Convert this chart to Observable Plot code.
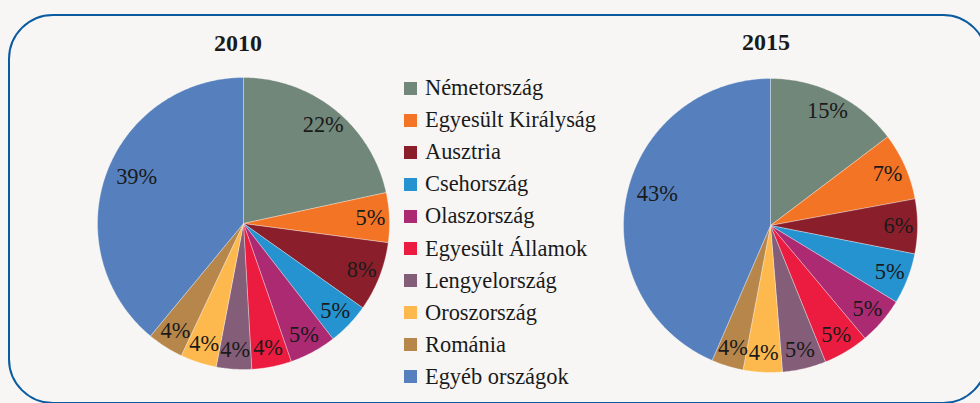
<!DOCTYPE html>
<html>
<head>
<meta charset="utf-8">
<script src="https://cdn.jsdelivr.net/npm/d3@7"></script>
<script src="https://cdn.jsdelivr.net/npm/@observablehq/plot@0.6"></script>
<style>
  html, body { margin: 0; padding: 0; background: #f7f6f4; }
  body { width: 980px; height: 403px; position: relative; overflow: hidden; font-family: "Liberation Serif", "Times New Roman", serif; color: #1a1a1a; }
  .frame { position: absolute; left: 8px; top: 14px; width: 980px; height: 390px; border: 2px solid #0b5ba1; border-radius: 45px; box-sizing: border-box; }
  .title { position: absolute; width: 120px; text-align: center; font-weight: bold; font-size: 24px; line-height: 24px; }
  .pie { position: absolute; }
  .leg { position: absolute; left: 404px; display: flex; align-items: center; height: 22px; font-size: 22.4px; line-height: 22px; white-space: nowrap; }
  .sw { width: 13px; height: 13px; margin-right: 8px; flex: none; }
</style>
</head>
<body>
<div class="frame"></div>
<script>
const countries = ["Németország","Egyesült Királyság","Ausztria","Csehország","Olaszország","Egyesült Államok","Lengyelország","Oroszország","Románia","Egyéb országok"];
const colors = ["#71877a","#f37425","#8a1f2b","#2593cf","#ab2a72","#ec1b40","#845e79","#fdb94e","#b7864a","#5580bd"];
const years = ["2010","2015"];
const values2010 = [21.6,5.5,7.7,4.7,5.2,4.4,3.9,4.0,4.0,39.0];
const values2015 = [14.7,7.4,6.0,5.6,5.2,5.0,4.8,4.3,3.5,43.5];
const labels2010 = ["22%","5%","8%","5%","5%","4%","4%","4%","4%","39%"];
const labels2015 = ["15%","7%","6%","5%","5%","5%","5%","4%","4%","43%"];

const pies = [
  {year: years[0], values: values2010, labels: labels2010, cx: 243, cy: 223, r: 146, titleX: 238, titleTop: 31},
  {year: years[1], values: values2015, labels: labels2015, cx: 770, cy: 224.5, r: 147, titleX: 766, titleTop: 30}
];

function drawPie(p) {
  const rows = countries.map((name, i) => ({name, v: p.values[i], label: p.labels[i]}));
  const arcs = d3.pie().sort(null).value(d => d.v)(rows);
  const pts = [];
  const lbls = [];
  for (const a of arcs) {
    pts.push({name: a.data.name, x: 0, y: 0});
    const n = Math.max(4, Math.ceil((a.endAngle - a.startAngle) / 0.01));
    for (let k = 0; k <= n; k++) {
      const t = a.startAngle + (a.endAngle - a.startAngle) * k / n;
      pts.push({name: a.data.name, x: Math.sin(t), y: Math.cos(t)});
    }
    pts.push({name: a.data.name, x: 0, y: 0});
    const m = (a.startAngle + a.endAngle) / 2 + (a.data.v > 30 ? 0.07 : 0);
    const f = a.data.v > 30 ? 0.8 : 0.87;
    lbls.push({label: a.data.label, x: f * Math.sin(m), y: f * Math.cos(m)});
  }
  const size = 2 * p.r + 8;
  const chart = Plot.plot({
    width: size, height: size, margin: 4,
    x: {domain: [-1, 1], axis: null},
    y: {domain: [-1, 1], axis: null},
    color: {domain: countries, range: colors},
    style: {background: "transparent", overflow: "visible"},
    marks: [
      Plot.line(pts, {x: "x", y: "y", z: "name", fill: "name", stroke: "#ffffff", strokeWidth: 0.6, strokeOpacity: 0.55, curve: "linear"}),
      Plot.text(lbls, {x: "x", y: "y", text: "label", fontSize: 22.4, fontFamily: "Liberation Serif", fill: "#1a1a1a"})
    ]
  });
  const wrap = document.createElement("div");
  wrap.className = "pie";
  wrap.style.left = (p.cx - size / 2) + "px";
  wrap.style.top = (p.cy - size / 2) + "px";
  wrap.appendChild(chart);
  document.body.appendChild(wrap);

  const t = document.createElement("div");
  t.className = "title";
  t.textContent = p.year;
  t.style.left = (p.titleX - 60) + "px";
  t.style.top = p.titleTop + "px";
  document.body.appendChild(t);
}
pies.forEach(drawPie);

countries.forEach((name, i) => {
  const row = document.createElement("div");
  row.className = "leg";
  row.style.top = (88 + i * 32.1 - 11) + "px";
  const sw = document.createElement("span");
  sw.className = "sw";
  sw.style.background = colors[i];
  const tx = document.createElement("span");
  tx.textContent = name;
  row.appendChild(sw);
  row.appendChild(tx);
  document.body.appendChild(row);
});
</script>
</body>
</html>
